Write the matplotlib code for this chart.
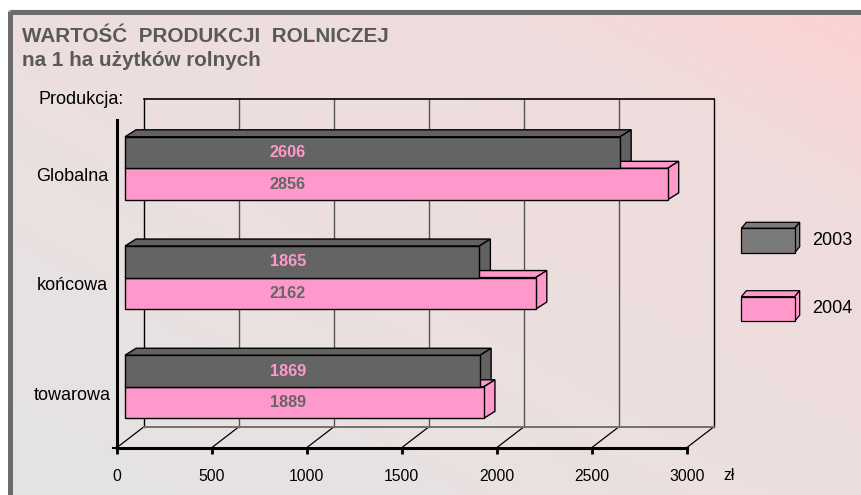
import numpy as np
import matplotlib
matplotlib.use("Agg")
import matplotlib.pyplot as plt
from matplotlib.patches import Polygon, Rectangle
from matplotlib.colors import LinearSegmentedColormap

plt.rcParams['font.family'] = ['Liberation Sans', 'DejaVu Sans']

# dane
kategorie = ['Globalna', 'końcowa', 'towarowa']
wartosci_2003 = [2606, 1865, 1869]
wartosci_2004 = [2856, 2162, 1889]
lata = ['2003', '2004']
os_x = [0, 500, 1000, 1500, 2000, 2500, 3000]

kolor_2003 = '#646464'
kolor_2004 = '#FF99CC'

W, H = 862, 495
fig = plt.figure(figsize=(W / 100, H / 100), dpi=100)
fig.patch.set_facecolor('white')

# tlo + ramka (wspolrzedne w pikselach)
bg = fig.add_axes([0, 0, 1, 1], zorder=0)
bg.set_xlim(0, W)
bg.set_ylim(H, 0)
bg.axis('off')

xx, yy = np.meshgrid(np.linspace(0, 1, 200), np.linspace(0, 1, 120))
t = (xx + (1 - yy)) / 2
cmap = LinearSegmentedColormap.from_list('tlo', [(0, '#e4e4e4'), (0.45, '#ecdfdf'),
                                                   (0.8, '#f0dcdc'), (1, '#fcd2d2')])
bg.imshow(t, cmap=cmap, extent=(9, W, H, 12), aspect='auto', origin='upper', zorder=0)
bg.plot([9, W], [9.5, 9.5], color='#c8c8c8', lw=1, zorder=1)
bg.plot([9.8, W], [12.3, 12.3], color='#6b6b6b', lw=3.6, solid_capstyle='butt', zorder=1)
bg.plot([9.8, 9.8], [10.5, H], color='#6b6b6b', lw=3.6, solid_capstyle='butt', zorder=1)

bg.text(22, 37, 'WARTOŚĆ  PRODUKCJI  ROLNICZEJ', fontsize=14.9, fontweight='bold',
        color='#595959', va='center', ha='left')
bg.text(22, 60, 'na 1 ha użytków rolnych', fontsize=14.9, fontweight='bold',
        color='#595959', va='center', ha='left')
bg.text(39, 99, 'Produkcja:', fontsize=13, color='black', va='center', ha='left')
bg.text(723, 476, 'zł', fontsize=11.3, color='black', va='center', ha='left')

# legenda 3D
legenda_y = [228.3, 296.7]
for rok, kol, y0 in zip(lata, ['#7a7a7a', kolor_2004], legenda_y):
    x0, x1, y1 = 741.3, 794.7, y0 + 24.4
    ddx, ddy = 5, -6
    bg.add_patch(Polygon([(x0, y0), (x1, y0), (x1 + ddx, y0 + ddy), (x0 + ddx, y0 + ddy)],
                         closed=True, facecolor=kol, edgecolor='black', lw=0.9, zorder=3))
    bg.add_patch(Polygon([(x1, y0), (x1, y1), (x1 + ddx, y1 + ddy), (x1 + ddx, y0 + ddy)],
                         closed=True, facecolor=kol, edgecolor='black', lw=0.9, zorder=3))
    bg.add_patch(Rectangle((x0, y0), x1 - x0, y1 - y0, facecolor=kol, edgecolor='black',
                           lw=0.9, zorder=4))
    bg.text(812, (y0 + y1) / 2, rok, fontsize=13, va='center', ha='left')

# wykres glowny
L, R, T, B = 116.7, 686.7, 120, 447.7
ax = fig.add_axes([L / W, 1 - B / H, (R - L) / W, (B - T) / H], zorder=1)
ax.patch.set_alpha(0)
ax.set_xlim(0, 3000)
ax.set_ylim(-0.5, 2.5)
for s in ['top', 'right']:
    ax.spines[s].set_visible(False)
for s in ['left', 'bottom']:
    ax.spines[s].set_linewidth(2.2)
    ax.spines[s].set_color('black')

DX, DY = 143.7, 0.192          # glebokosc sciany tylnej
dx0, dy0 = 43.7, 0.0577        # przesuniecie frontu slupkow
bdx, bdy = 58.0, 0.064         # glebokosc slupka
h = 0.2885

# sciana tylna i podloga
for v in os_x:
    kol = 'black' if v in (os_x[0], os_x[-1]) else '#555555'
    ax.plot([v + DX, v + DX], [-0.5 + DY, 2.5 + DY], color=kol, lw=1, clip_on=False, zorder=1)
    ax.plot([v, v + DX], [-0.5, -0.5 + DY], color='black', lw=0.9, clip_on=False, zorder=1)
ax.plot([DX, os_x[-1] + DX], [2.5 + DY, 2.5 + DY], color='black', lw=1.2, clip_on=False, zorder=1)
ax.plot([DX, os_x[-1] + DX], [-0.5 + DY, -0.5 + DY], color='#707070', lw=1.4, clip_on=False, zorder=1)
ax.plot([-20, 0], [-0.5, -0.5], color='black', lw=1.5, clip_on=False, zorder=1)

pozycje = np.arange(len(kategorie))[::-1]


def slupek_3d(y_dol, y_gora, v, kol, z):
    ax.add_patch(Polygon([(dx0, y_gora), (dx0 + v, y_gora), (dx0 + v + bdx, y_gora + bdy),
                          (dx0 + bdx, y_gora + bdy)], closed=True, facecolor=kol,
                         edgecolor='black', lw=1, zorder=z, clip_on=False))
    ax.add_patch(Polygon([(dx0 + v, y_dol), (dx0 + v, y_gora), (dx0 + v + bdx, y_gora + bdy),
                          (dx0 + v + bdx, y_dol + bdy)], closed=True, facecolor=kol,
                         edgecolor='black', lw=1, zorder=z, clip_on=False))


for c, v3, v4 in zip(pozycje, wartosci_2003, wartosci_2004):
    y3 = c + h / 2 + dy0
    y4 = c - h / 2 + dy0
    slupek_3d(y3 - h / 2, y3 + h / 2, v3, '#626262', 3)
    slupek_3d(y4 - h / 2, y4 + h / 2, v4, kolor_2004, 4)
    ax.barh(y4, v4, left=dx0, height=h, color=kolor_2004, edgecolor='black', lw=1, zorder=4)
    ax.barh(y3, v3, left=dx0, height=h, color=kolor_2003, edgecolor='black', lw=1, zorder=5)
    ax.text(900, y3, str(v3), color=kolor_2004, fontsize=11.7, fontweight='bold',
            ha='center', va='center', zorder=6)
    ax.text(900, y4, str(v4), color='#666666', fontsize=11.7, fontweight='bold',
            ha='center', va='center', zorder=6)

ax.set_xticks(os_x)
ax.set_xticklabels([str(v) for v in os_x], fontsize=11.3)
ax.tick_params(axis='x', direction='out', length=4, width=2, pad=11)
ax.set_yticks(pozycje)
ax.set_yticklabels(kategorie, fontsize=13)
for lab in ax.get_yticklabels():
    lab.set_horizontalalignment('center')
ax.tick_params(axis='y', length=0, pad=32)

fig.savefig('out.png', dpi=100)
